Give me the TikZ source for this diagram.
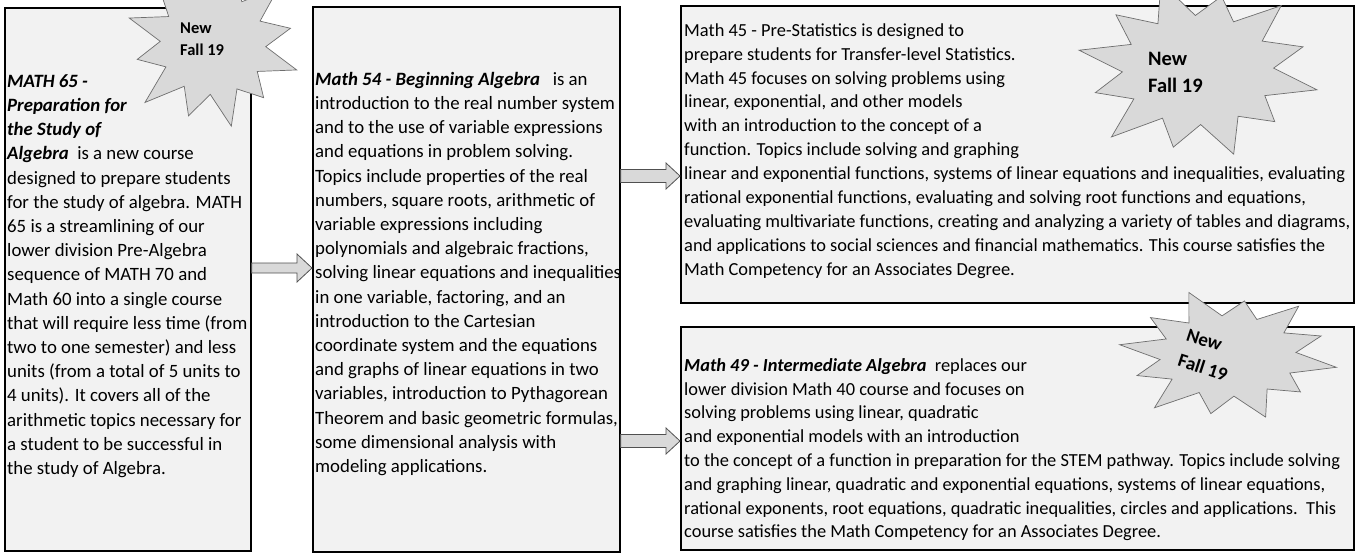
\documentclass[tikz,border=0pt]{standalone}
\usepackage{fontspec}
\setmainfont{Carlito}
\usetikzlibrary{calc}
\definecolor{boxfill}{RGB}{242,242,242}
\definecolor{burstfill}{RGB}{217,217,217}
\definecolor{burstline}{RGB}{110,110,110}
\definecolor{arrowfill}{RGB}{217,217,217}
\definecolor{arrowline}{RGB}{80,80,80}
\tikzset{
  coursebox/.style={draw=black, line width=1.6pt, fill=boxfill, inner sep=0pt, anchor=north west},
  bodytext/.style={anchor=north west, inner sep=0pt, align=left, font=\fontsize{18.8}{24.2}\selectfont},
  widetext/.style={anchor=north west, inner sep=0pt, align=left, font=\fontsize{18.4}{23.9}\selectfont},
  burst/.style={draw=burstline, line width=0.7pt, fill=burstfill, line join=miter},
  blockarrow/.style={draw=arrowline, line width=0.8pt, fill=arrowfill},
  bursttext/.style={inner sep=0pt, align=left, anchor=north west},
}
% #1 cx, #2 cy, #3 rx, #4 ry, #5 angle offset, #6 inner ratio
\newcommand\burstshape[6]{%
  \draw[burst] ([shift={(#1,#2)},xscale=#3,yscale=#4]#5:1)
    \foreach \k/\f [evaluate=\k as \ai using #5+30*\k-15, evaluate=\k as \ao using #5+30*\k] in
      {1/0.86,2/1.0,3/0.9,4/1.04,5/0.88,6/1.0,7/0.92,8/1.04,9/0.86,10/1.0,11/0.9,12/1.0}
      { -- ([shift={(#1,#2)},xscale=#3,yscale=#4]\ai:#6) -- ([shift={(#1,#2)},xscale=#3,yscale=#4]\ao:\f) }
    -- cycle;}
% #1 from, #2 to, #3 shaft half height, #4 head half height, #5 head length
\newcommand\blockconn[5]{%
  \draw[blockarrow] let \p1=(#1), \p2=(#2) in
    (\x1,\y1+#3) -- (\x2-#5,\y1+#3) -- (\x2-#5,\y1+#4) -- (\x2,\y1)
    -- (\x2-#5,\y1-#4) -- (\x2-#5,\y1-#3) -- (\x1,\y1-#3) -- cycle;}
\begin{document}
\begin{tikzpicture}[x=1pt,y=-1pt]
\useasboundingbox (0,0) rectangle (1356,552);
% boxes
\node[coursebox, minimum width=246pt, minimum height=543pt] (b1) at (4,7) {};
\node[coursebox, minimum width=307pt, minimum height=545pt] (b2) at (312,6) {};
\node[coursebox, minimum width=673pt, minimum height=297pt] (b3) at (680,5) {};
\node[coursebox, minimum width=673pt, minimum height=223pt] (b4) at (680,326) {};
% texts
\node[bodytext] (t1) at (7,71) {\rule{0pt}{16pt}\textbf{\textit{MATH 65 -}}\\
\textbf{\textit{Preparation for}}\\
\textbf{\textit{the Study of}}\\
\textbf{\textit{Algebra}}\ \ is a new course\\
designed to prepare students\\
for the study of algebra. MATH\\
65 is a streamlining of our\\
lower division Pre-Algebra\\
sequence of MATH 70 and\\
Math 60 into a single course\\
that will require less time (from\\
two to one semester) and less\\
units (from a total of 5 units to\\
4 units). It covers all of the\\
arithmetic topics necessary for\\
a student to be successful in\\
the study of Algebra.};
\node[bodytext] (t2) at (315,69) {\rule{0pt}{16pt}\textbf{\textit{Math 54 - Beginning Algebra}}\ \ \ is an\\
introduction to the real number system\\
and to the use of variable expressions\\
and equations in problem solving.\\
Topics include properties of the real\\
numbers, square roots, arithmetic of\\
variable expressions including\\
polynomials and algebraic fractions,\\
solving linear equations and inequalities\\
in one variable, factoring, and an\\
introduction to the Cartesian\\
coordinate system and the equations\\
and graphs of linear equations in two\\
variables, introduction to Pythagorean\\
Theorem and basic geometric formulas,\\
some dimensional analysis with\\
modeling applications.};
\node[widetext] (t3) at (684,20) {\rule{0pt}{16pt}Math 45 - Pre-Statistics is designed to\\
prepare students for Transfer-level Statistics.\\
Math 45 focuses on solving problems using\\
linear, exponential, and other models\\
with an introduction to the concept of a\\
function. Topics include solving and graphing\\
linear and exponential functions, systems of linear equations and inequalities, evaluating\\
rational exponential functions, evaluating and solving root functions and equations,\\
evaluating multivariate functions, creating and analyzing a variety of tables and diagrams,\\
and applications to social sciences and financial mathematics. This course satisfies the\\
Math Competency for an Associates Degree.};
\node[widetext, font=\fontsize{18.4}{23.8}\selectfont] (t4) at (684,355) {\rule{0pt}{16pt}\textbf{\textit{Math 49 - Intermediate Algebra}}\ \ replaces our\\
lower division Math 40 course and focuses on\\
solving problems using linear, quadratic\\
and exponential models with an introduction\\
to the concept of a function in preparation for the STEM pathway. Topics include solving\\
and graphing linear, quadratic and exponential equations, systems of linear equations,\\
rational exponents, root equations, quadratic inequalities, circles and applications.\ \ This\\
course satisfies the Math Competency for an Associates Degree.};
% connectors
\coordinate (a1s) at (b1.east |- 0,268);
\coordinate (a1e) at (b2.west |- 0,268);
\coordinate (a2s) at (b2.east |- 0,176);
\coordinate (a2e) at (b3.west |- 0,176);
\coordinate (a3s) at (b2.east |- 0,441);
\coordinate (a3e) at (b4.west |- 0,441);
\blockconn{a1s}{a1e}{5pt}{14pt}{15pt}
\blockconn{a2s}{a2e}{6.5pt}{13pt}{14pt}
\blockconn{a3s}{a3e}{6.5pt}{13pt}{14pt}
% bursts
\burstshape{213}{44}{88}{84}{18}{0.6}
\burstshape{1198}{70}{122}{88}{13}{0.62}
\burstshape{1228}{356}{110}{65}{10}{0.62}
\node[bursttext, font=\bfseries\fontsize{16.5}{22}\selectfont] (s1) at (180,20) {\rule{0pt}{13pt}New\\Fall 19};
\node[bursttext, font=\bfseries\fontsize{20.5}{27}\selectfont] (s2) at (1148,49) {\rule{0pt}{16pt}New\\Fall 19};
\node[inner sep=0pt, align=left, rotate=-18, font=\bfseries\fontsize{19}{27}\selectfont] (s3) at (1207,355) {New\\Fall 19};
\end{tikzpicture}
\end{document}
